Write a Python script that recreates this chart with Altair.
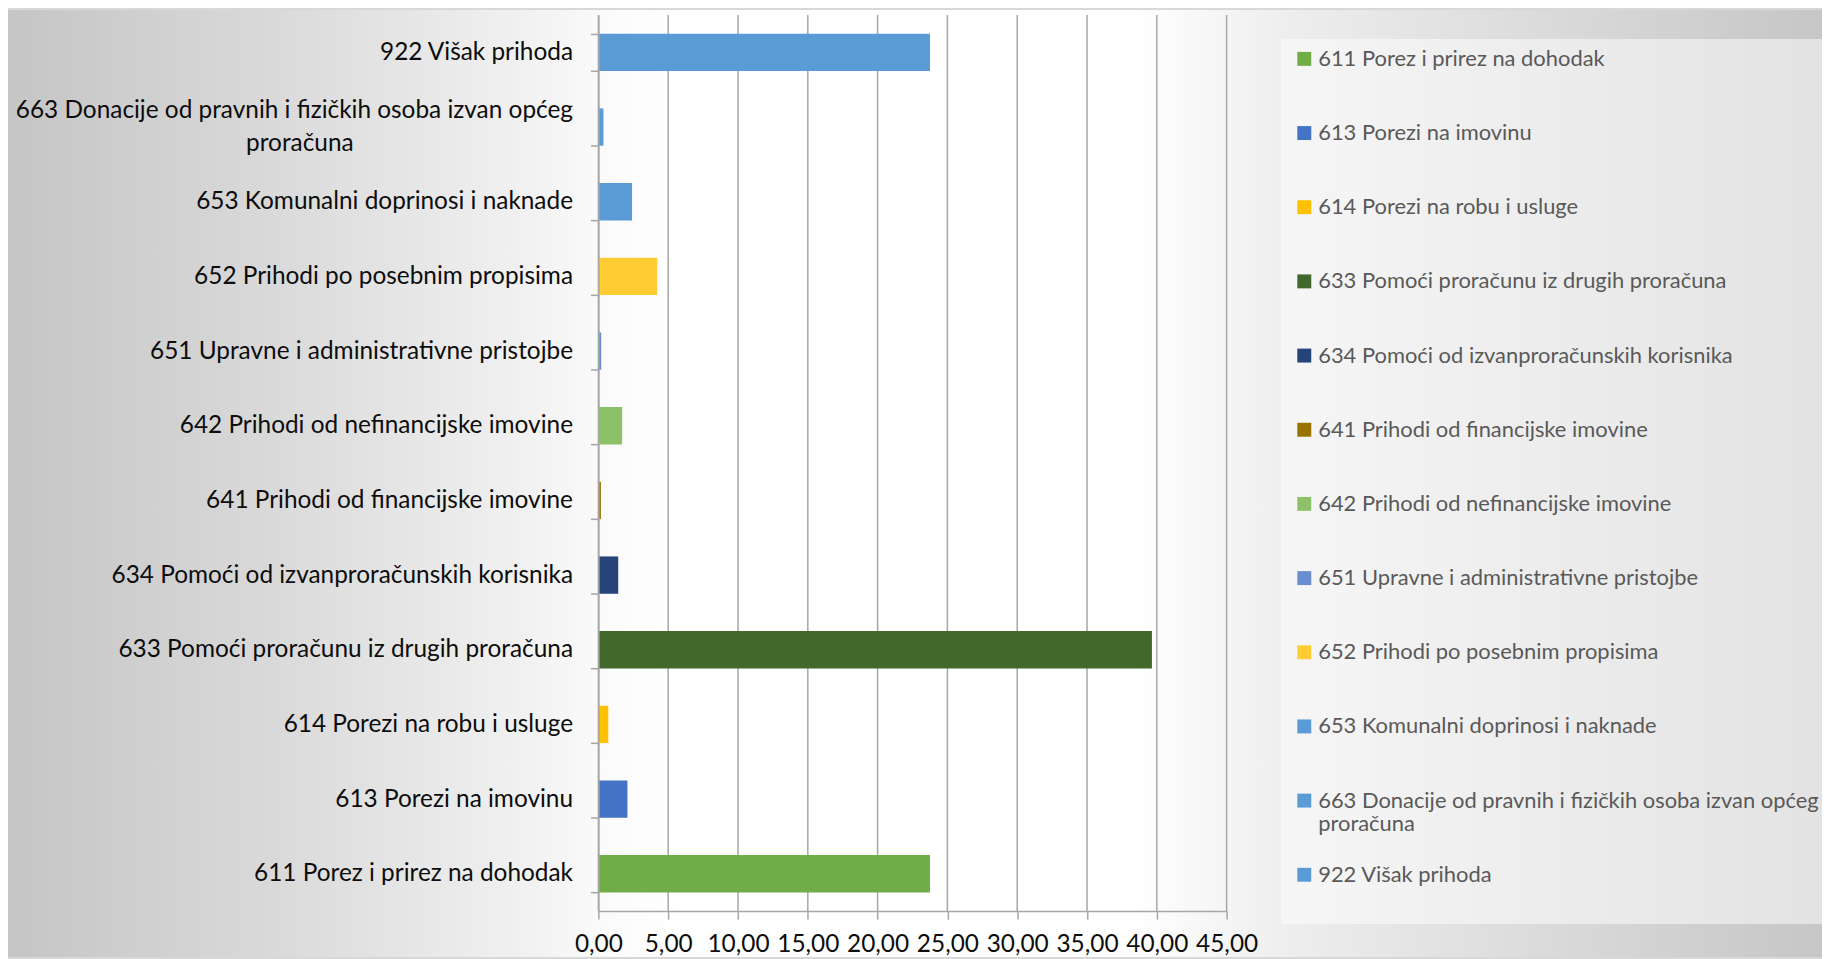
import altair as alt
import pandas as pd

categories = [
    "611 Porez i prirez na dohodak",
    "613 Porezi na imovinu",
    "614 Porezi na robu i usluge",
    "633 Pomoći proračunu iz drugih proračuna",
    "634 Pomoći od izvanproračunskih korisnika",
    "641 Prihodi od financijske imovine",
    "642 Prihodi od nefinancijske imovine",
    "651 Upravne i administrativne pristojbe",
    "652 Prihodi po posebnim propisima",
    "653 Komunalni doprinosi i naknade",
    "663 Donacije od pravnih i fizičkih osoba izvan općeg\nproračuna",
    "922 Višak prihoda",
]
values = [23.75, 2.08, 0.71, 39.65, 1.42, 0.18, 1.70, 0.20, 4.22, 2.41, 0.36, 23.75]
colors = ["#70AD47", "#4472C4", "#FFC000", "#43682B", "#264478", "#997300",
          "#8CC168", "#698ED0", "#FFCD33", "#5B9BD5", "#5B9BD5", "#5B9BD5"]
x_ticks = [0, 5, 10, 15, 20, 25, 30, 35, 40, 45]

W, H = 631, 900
PL, PT, PR, PB = 593, 5, 598, 46
OX = 8 + PL   # page x of plot origin
OY = 8 + PT   # page y of plot origin
FONT = "Lato"
GRID = "#a6a6a6"
EM = "\u2003"
ZW = "\u200b"

df = pd.DataFrame({"cat": categories, "val": values})
ticks_df = pd.DataFrame({"t": x_ticks})
one = pd.DataFrame({"a": [0]})

xscale = alt.Scale(domain=[0, 45], nice=False, zero=True)

bg = alt.Chart(one).mark_rect(
    fill=alt.LinearGradient(
        gradient="linear", x1=0, y1=0, x2=1, y2=0,
        stops=[
            alt.GradientStop(offset=0, color="#c5c5c5"),
            alt.GradientStop(offset=0.15, color="#dadada"),
            alt.GradientStop(offset=0.28, color="#f0f0f0"),
            alt.GradientStop(offset=0.33, color="#fbfbfb"),
            alt.GradientStop(offset=0.37, color="#ffffff"),
            alt.GradientStop(offset=0.62, color="#ffffff"),
            alt.GradientStop(offset=0.71, color="#ededed"),
            alt.GradientStop(offset=1, color="#c6c6c6"),
        ],
    )
).encode(
    x=alt.value(-PL), x2=alt.value(W + PR),
    y=alt.value(-PT), y2=alt.value(H + PB),
)

legend_box = alt.Chart(one).mark_rect(
    fill=alt.LinearGradient(
        gradient="linear", x1=0, y1=0, x2=1, y2=0,
        stops=[
            alt.GradientStop(offset=0, color="#f6f6f6"),
            alt.GradientStop(offset=1, color="#e3e3e3"),
        ],
    )
).encode(
    x=alt.value(1287 - OX), x2=alt.value(W + PR),
    y=alt.value(37 - OY), y2=alt.value(926 - OY),
)

grid = alt.Chart(ticks_df).mark_rule(color=GRID, strokeWidth=1.5).encode(
    x=alt.X("t:Q", scale=xscale),
    y=alt.value(0), y2=alt.value(H),
)

# two-line label uses lines 0 and 2; one-line labels sit on line 1 (the tick)
y_label_expr = (
    "indexof(datum.label, '\\n') >= 0 ? "
    "[split(datum.label, '\\n')[0], '" + ZW + "', split(datum.label, '\\n')[1] + '" + EM * 12 + ZW + "'] "
    ": ['" + ZW + "', datum.label]"
)
legend_label_expr = (
    "indexof(datum.label, '\\n') >= 0 ? split(datum.label, '\\n') "
    ": [datum.label, '" + ZW + "']"
)

bars = alt.Chart(df).mark_bar().encode(
    y=alt.Y(
        "cat:N",
        sort=categories[::-1],
        scale=alt.Scale(paddingInner=0.5, paddingOuter=0.25),
        axis=alt.Axis(
            title=None, zindex=1,
            labelFont=FONT, labelFontSize=24.5, labelColor="#0d0d0d",
            labelPadding=18, labelLimit=1000, labelLineHeight=17,
            labelOffset=-17,
            labelExpr=y_label_expr,
            tickSize=8, tickColor=GRID, tickWidth=1.5, tickBand="extent",
            domainColor=GRID, domainWidth=1.5,
        ),
    ),
    x=alt.X(
        "val:Q",
        scale=xscale,
        axis=alt.Axis(
            title=None, zindex=1, values=x_ticks, grid=False,
            domain=True, domainColor=GRID, domainWidth=1.5,
            labelFont=FONT, labelFontSize=24.5, labelColor="#0d0d0d",
            labelPadding=14, labelFlush=False,
            labelExpr="replace(format(datum.value, '.2f'), '.', ',')",
            tickSize=8, tickColor=GRID, tickWidth=1.5,
        ),
    ),
    color=alt.Color(
        "cat:N",
        scale=alt.Scale(domain=categories, range=colors),
        legend=alt.Legend(
            title=None, orient="none", legendX=1299 - OX, legendY=33,
            labelFont=FONT, labelFontSize=22, labelColor="#595959",
            labelLimit=1000, labelOffset=3,
            labelExpr=legend_label_expr,
            symbolType="square", symbolSize=196, symbolStrokeWidth=0,
            rowPadding=28.5, padding=0,
        ),
    ),
)

chart = alt.layer(bg, legend_box, grid, bars).properties(
    width=W, height=H,
    autosize=alt.AutoSizeParams(type="none"),
    padding={"left": PL, "top": PT, "right": PR, "bottom": PB},
    background="#d8d8d8",
).configure_view(stroke=None)

chart.save("out.html", embed_options={"renderer": "svg", "actions": False})
